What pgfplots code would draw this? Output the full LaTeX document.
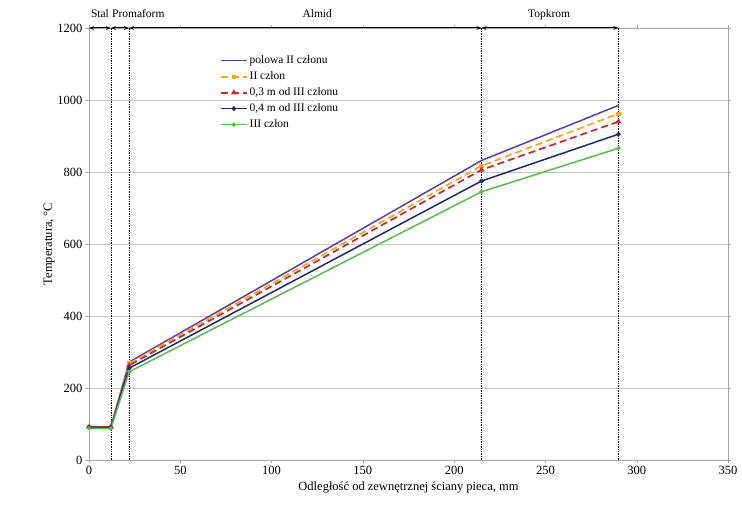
\documentclass[border=0pt]{standalone}
\usepackage{pgfplots}
\pgfplotsset{compat=1.18}
\usepackage{fontspec}
\setmainfont{Liberation Serif}
\usetikzlibrary{arrows.meta}

\definecolor{cpurple}{RGB}{88,62,168}
\definecolor{corange}{RGB}{245,166,35}
\definecolor{cred}{RGB}{200,40,45}
\definecolor{cnavy}{RGB}{30,40,110}
\definecolor{cgreen}{RGB}{92,184,80}

\begin{document}
\begin{tikzpicture}
\begin{axis}[
    scale only axis,
    width=639pt, height=432pt,
    xmin=0, xmax=350, ymin=0, ymax=1200,
    xtick={0,50,...,350}, ytick={0,200,...,1200},
    ymajorgrids, grid style={gray!45, line width=0.6pt},
    axis line style={gray!70},
    tick style={gray!70},
    tick align=outside,
    major tick length=3pt,
    /pgf/number format/assume math mode=true,
    /pgf/number format/1000 sep={},
    ticklabel style={font=\fontsize{12.5}{14}\selectfont},
    xlabel={Odległość od zewnętrznej ściany pieca, mm},
    ylabel={Temperatura, °C},
    label style={font=\fontsize{12.5}{14}\selectfont},
    ylabel style={yshift=-4pt},
    clip=false,
    legend style={draw=none, fill=none, at={(0.2,0.945)}, anchor=north west,
        font=\fontsize{11.5}{12}\selectfont, row sep=2.5pt},
    legend cell align=left,
    legend image code/.code={\draw[mark repeat=2, mark phase=2, #1] plot coordinates {(0pt,0pt) (13pt,0pt) (26pt,0pt)};},
]
\draw[black, densely dotted, line width=0.7pt] (axis cs:12,0) -- (axis cs:12,1200);
\draw[black, densely dotted, line width=0.7pt] (axis cs:22,0) -- (axis cs:22,1200);
\draw[black, densely dotted, line width=0.7pt] (axis cs:215,0) -- (axis cs:215,1200);
\draw[black, densely dotted, line width=0.7pt] (axis cs:290,0) -- (axis cs:290,1200);

\addplot[cpurple, line width=1.5pt] coordinates {
    (0,92) (12,92) (22,272) (215,832) (290,985)
};
\addlegendentry{polowa II członu}
\addplot[corange, line width=1.7pt, dash pattern=on 7pt off 4pt, mark=square*, mark size=1.3pt, mark options={solid}] coordinates {
    (0,92) (12,92) (22,268) (215,817) (290,962)
};
\addlegendentry{II człon}
\addplot[cred, line width=1.7pt, dash pattern=on 7pt off 4pt, mark=triangle*, mark size=1.7pt, mark options={solid}] coordinates {
    (0,92) (12,92) (22,263) (215,806) (290,940)
};
\addlegendentry{0,3 m od III członu}
\addplot[cnavy, line width=1.5pt, mark=*, mark size=1.5pt] coordinates {
    (0,90) (12,90) (22,255) (215,775) (290,905)
};
\addlegendentry{0,4 m od III członu}
\addplot[cgreen, line width=1.5pt, mark=*, mark size=1.3pt] coordinates {
    (0,88) (12,88) (22,245) (215,745) (290,866)
};
\addlegendentry{III człon}

\draw[black, line width=1pt, {Stealth[length=5pt]}-{Stealth[length=5pt]}] (axis cs:0,1200) -- (axis cs:12,1200);
\draw[black, line width=1pt, {Stealth[length=5pt]}-{Stealth[length=5pt]}] (axis cs:12,1200) -- (axis cs:22,1200);
\draw[black, line width=1pt, {Stealth[length=5pt]}-{Stealth[length=5pt]}] (axis cs:22,1200) -- (axis cs:215,1200);
\draw[black, line width=1pt, {Stealth[length=5pt]}-{Stealth[length=5pt]}] (axis cs:215,1200) -- (axis cs:290,1200);

\node[font=\fontsize{11.5}{12}\selectfont, anchor=base] at (axis cs:6,1228) {Stal};
\node[font=\fontsize{11.5}{12}\selectfont, anchor=base west, inner sep=1pt] at (axis cs:12,1228) {Promaform};
\node[font=\fontsize{11.5}{12}\selectfont, anchor=base] at (axis cs:125,1228) {Almid};
\node[font=\fontsize{11.5}{12}\selectfont, anchor=base] at (axis cs:252,1228) {Topkrom};
\end{axis}
\path (current axis.south west) ++(-89pt,-57pt) rectangle ++(742pt,517pt);
\end{tikzpicture}
\end{document}
